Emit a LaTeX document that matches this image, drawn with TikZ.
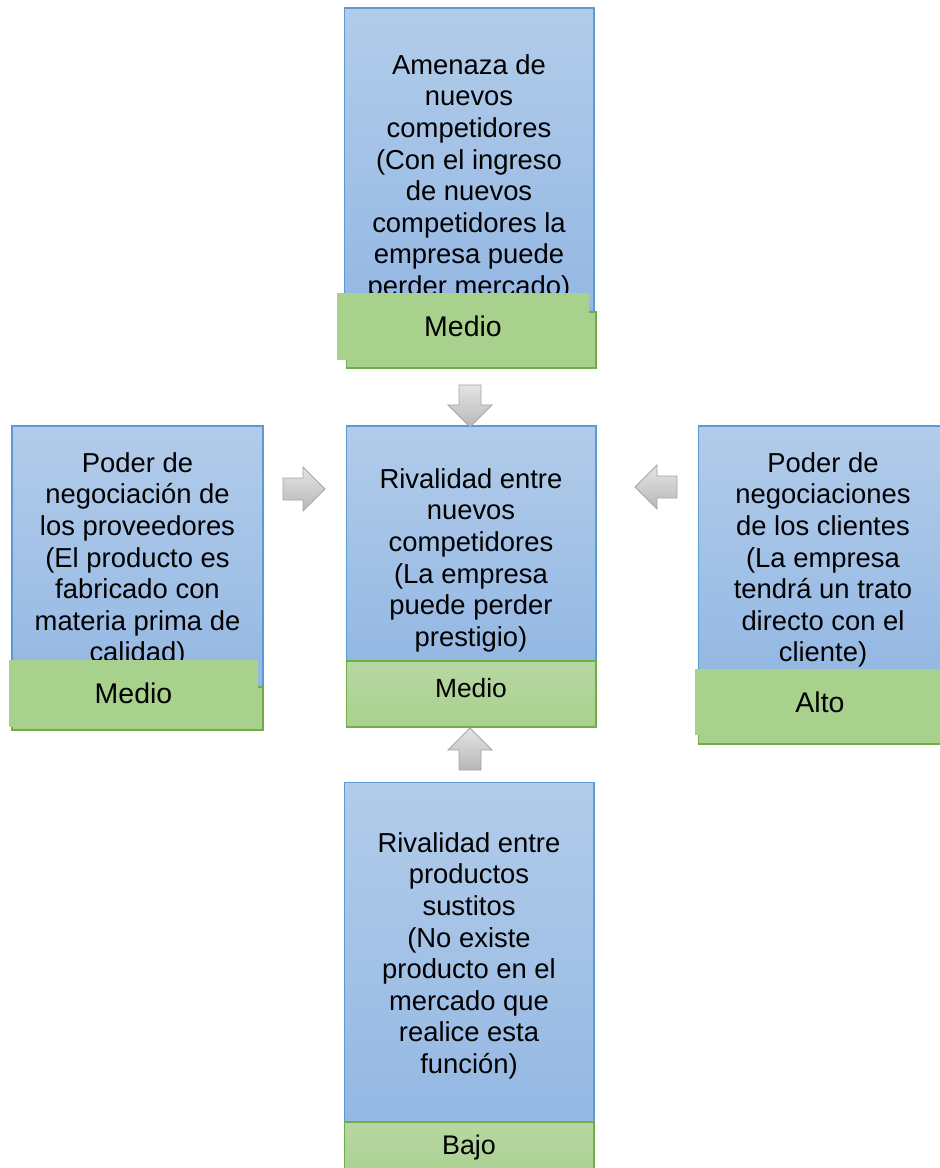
\documentclass[tikz,border=0pt]{standalone}
\usepackage{fontspec}
\setmainfont{Liberation Sans}
\usetikzlibrary{positioning}
\definecolor{azulclaro}{RGB}{178,204,234}
\definecolor{azuloscuro}{RGB}{148,184,227}
\definecolor{azulborde}{RGB}{91,155,213}
\definecolor{verde}{RGB}{169,209,142}
\definecolor{verdeclaro}{RGB}{183,215,163}
\definecolor{verdeborde}{RGB}{112,173,71}
\definecolor{grisclaro}{RGB}{228,228,228}
\definecolor{grisoscuro}{RGB}{184,184,184}
\definecolor{grisborde}{RGB}{165,165,165}

\begin{document}
\begin{tikzpicture}[x=0.02cm, y=-0.02cm]
\tikzstyle{fuerza}=[rectangle, draw=azulborde, line width=0.6pt, top color=azulclaro, bottom color=azuloscuro, outer sep=0pt, inner sep=0pt, minimum width=5cm]
\tikzstyle{texto}=[align=center, inner sep=0pt, anchor=north, font=\fontsize{15.6pt}{18pt}\selectfont]
\tikzstyle{sombra}=[rectangle, draw=verdeborde, line width=0.6pt, fill=verde, outer sep=0pt, inner sep=0pt]
\tikzstyle{nivel}=[rectangle, fill=verde, outer sep=0pt, inner sep=0pt, font=\fontsize{16.2pt}{19pt}\selectfont]
\tikzstyle{nivelc}=[rectangle, draw=verdeborde, line width=0.6pt, top color=verdeclaro, bottom color=verde, outer sep=0pt, inner sep=0pt, minimum width=5cm]
\tikzstyle{flecha}=[draw=grisborde, line width=0.5pt, top color=grisclaro, bottom color=grisoscuro]

\useasboundingbox (0,0) rectangle (939,1168);

% amenaza de nuevos competidores
\node[fuerza, minimum height=6.08cm] (amenaza) at (469,160) {};
\node[texto] (amenazatxt) at (469,54) {Amenaza de\\nuevos\\competidores\\(Con el ingreso\\de nuevos\\competidores la\\empresa puede\\perder mercado)};
\node[sombra, minimum width=5cm, minimum height=1.12cm] (amenazasom) at (471,340) {};
\node[nivel, minimum width=5.04cm, minimum height=1.34cm] (amenazaniv) at (463,326.5) {Medio};

% proveedores
\node[fuerza, minimum width=5.02cm, minimum height=5.22cm] (proveedores) at (137.5,556.5) {};
\node[texto] (proveedorestxt) at (137.5,452) {Poder de\\negociación de\\los proveedores\\(El producto es\\fabricado con\\materia prima de\\calidad)};
\node[sombra, minimum width=5.02cm, minimum height=0.86cm] (proveedoressom) at (137.5,708.5) {};
\node[nivel, minimum width=4.98cm, minimum height=1.34cm] (proveedoresniv) at (133.5,693.5) {Medio};

% clientes
\node[fuerza, minimum height=4.98cm] (clientes) at (823,550.5) {};
\node[texto] (clientestxt) at (823,452) {Poder de\\negociaciones\\de los clientes\\(La empresa\\tendrá un trato\\directo con el\\cliente)};
\node[sombra, minimum width=5cm, minimum height=1.38cm] (clientessom) at (823,709.5) {};
\node[nivel, minimum width=5cm, minimum height=1.32cm] (clientesniv) at (820,702) {Alto};

% rivalidad (centro)
\node[fuerza, minimum height=4.7cm] (rivalidad) at (471,543.5) {};
\node[texto] (rivalidadtxt) at (471,468) {Rivalidad entre\\nuevos\\competidores\\(La empresa\\puede perder\\prestigio)};
\node[nivelc, minimum height=1.32cm] (rivalidadniv) at (471,694) {};
\node[font=\fontsize{15pt}{18pt}\selectfont, inner sep=0pt] (rivalidadlbl) at (471,688.5) {Medio};

% sustitutos
\node[fuerza, minimum height=6.8cm] (sustitos) at (469,952) {};
\node[texto] (sustitostxt) at (469,832) {Rivalidad entre\\productos\\sustitos\\(No existe\\producto en el\\mercado que\\realice esta\\función)};
\node[nivelc, minimum height=1.16cm] (sustitosniv) at (469,1151) {};
\node[font=\fontsize{15.3pt}{18pt}\selectfont, inner sep=0pt] (sustitoslbl) at (469,1147.5) {Bajo};

% flechas de bloque
\foreach \px/\py/\ang in {470/427/-90, 470/728/90, 325/489/0, 635/487/180}
{
  \begin{scope}[shift={(\px,\py)}, rotate=\ang]
    \shade[flecha] (0,0) -- (-22,22) -- (-22,11) -- (-42,11) -- (-42,-11) -- (-22,-11) -- (-22,-22) -- cycle;
  \end{scope}
}
\end{tikzpicture}
\end{document}
